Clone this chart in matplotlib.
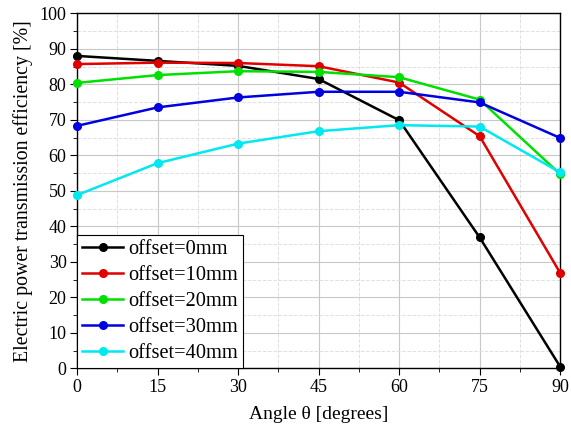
import matplotlib
matplotlib.use("Agg")
import matplotlib.pyplot as plt
from matplotlib.ticker import MultipleLocator

plt.rcParams['font.family'] = ['Liberation Serif', 'DejaVu Serif']

angles = [0, 15, 30, 45, 60, 75, 90]
labels = ["offset=0mm", "offset=10mm", "offset=20mm", "offset=30mm", "offset=40mm"]
eff_0 = [88.0, 86.6, 85.2, 81.5, 69.9, 36.9, 0.5]
eff_10 = [85.7, 86.1, 86.0, 85.1, 80.5, 65.4, 26.9]
eff_20 = [80.4, 82.6, 83.7, 83.5, 82.0, 75.7, 54.7]
eff_30 = [68.3, 73.5, 76.3, 77.9, 77.9, 74.9, 64.9]
eff_40 = [48.8, 57.8, 63.3, 66.8, 68.5, 68.1, 55.2]
colors = ["#000000", "#e00000", "#00e000", "#0000e0", "#00e8f0"]

fig = plt.figure(figsize=(5.71, 4.36), dpi=100)
ax = fig.add_axes([0.1349, 0.155, 0.981 - 0.1349, 0.9695 - 0.155])

for ys, c, lab in zip([eff_0, eff_10, eff_20, eff_30, eff_40], colors, labels):
    ax.plot(angles, ys, color=c, lw=1.8, marker='o', ms=5.5, label=lab, clip_on=False, zorder=3)

ax.set_xlim(0, 90)
ax.set_ylim(0, 100)
ax.xaxis.set_major_locator(MultipleLocator(15))
ax.xaxis.set_minor_locator(MultipleLocator(7.5))
ax.yaxis.set_major_locator(MultipleLocator(10))
ax.yaxis.set_minor_locator(MultipleLocator(5))
ax.grid(which='major', color='#c8c8c8', lw=0.8)
ax.grid(which='minor', color='#e0e0e0', lw=0.7, ls='--')
ax.tick_params(which='both', direction='out', labelsize=13, top=False, right=False, pad=2.5)
ax.tick_params(which='major', length=5)
ax.tick_params(which='minor', length=3)
for s in ax.spines.values():
    s.set_linewidth(1.0)

ax.set_xlabel("Angle θ [degrees]", fontsize=14, labelpad=7)
ax.set_ylabel("Electric power transmission efficiency [%]", fontsize=14.3, labelpad=5)

leg = ax.legend(loc='lower left', fontsize=14.7, frameon=True, fancybox=False,
                edgecolor='black', framealpha=1, borderaxespad=0, handlelength=2.0,
                handletextpad=0.25, labelspacing=0.33, borderpad=0.25)
leg.get_frame().set_linewidth(0.8)

fig.savefig("out.png", dpi=100)
